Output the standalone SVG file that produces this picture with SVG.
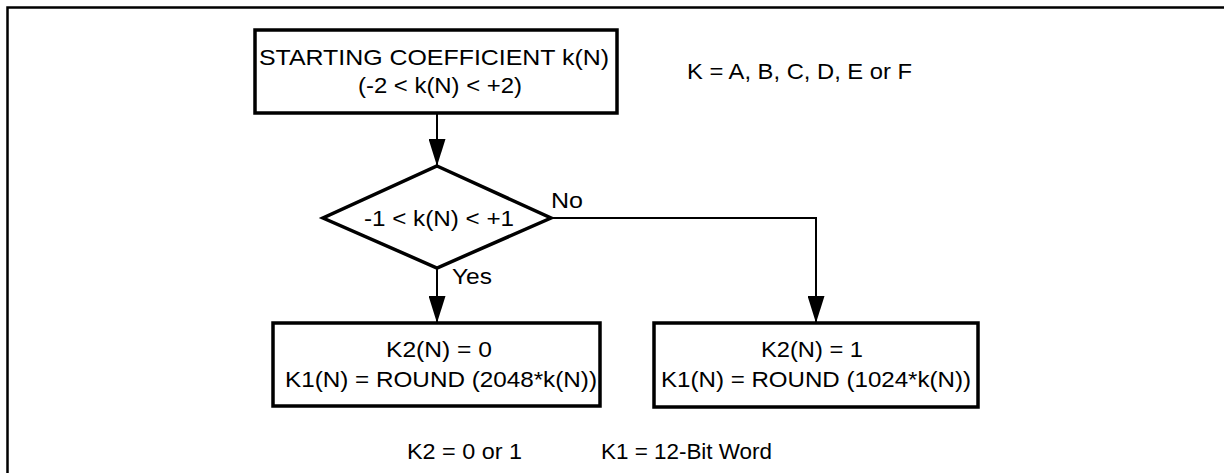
<svg xmlns="http://www.w3.org/2000/svg" width="1224" height="473" viewBox="0 0 1224 473">
<style>
text{font-family:"Liberation Sans",Arial,sans-serif;font-size:22px;fill:#000}
.c{text-anchor:middle}
.box{fill:#fff;stroke:#000;stroke-width:3.5}
.ln{fill:none;stroke:#000;stroke-width:2}
</style>
<defs>
<marker id="ah" markerUnits="userSpaceOnUse" markerWidth="27" markerHeight="17" refX="27" refY="8.5" orient="auto">
<path d="M0,0 L27,8.5 L0,17 z" fill="#000"/>
</marker>
</defs>
<rect width="1224" height="473" fill="#fff"/>
<path d="M7.5,473 V7.5 H1224" fill="none" stroke="#000" stroke-width="2.5"/>
<g id="connectors">
<line class="ln" x1="437" y1="113" x2="437" y2="166" marker-end="url(#ah)"/>
<line class="ln" x1="437" y1="268" x2="437" y2="323" marker-end="url(#ah)"/>
<polyline class="ln" points="551,218 816,218 816,323" marker-end="url(#ah)"/>
<text x="551" y="208" textLength="32" lengthAdjust="spacingAndGlyphs">No</text>
<text x="452" y="284" textLength="40" lengthAdjust="spacingAndGlyphs">Yes</text>
</g>
<g id="start">
<rect class="box" x="255" y="30" width="362" height="83"/>
<text class="c" x="434" y="65" textLength="350" lengthAdjust="spacingAndGlyphs">STARTING COEFFICIENT k(N)</text>
<text class="c" x="440" y="93" textLength="164" lengthAdjust="spacingAndGlyphs">(-2 &lt; k(N) &lt; +2)</text>
</g>
<g id="decision">
<polygon class="box" points="437,166 551,218 437,268 323,218"/>
<text class="c" x="439" y="226" textLength="150" lengthAdjust="spacingAndGlyphs">-1 &lt; k(N) &lt; +1</text>
</g>
<g id="yesbox">
<rect class="box" x="273" y="323" width="327" height="83"/>
<text class="c" x="439" y="357" textLength="106" lengthAdjust="spacingAndGlyphs">K2(N) = 0</text>
<text class="c" x="441" y="387" textLength="312" lengthAdjust="spacingAndGlyphs">K1(N) = ROUND (2048*k(N))</text>
</g>
<g id="nobox">
<rect class="box" x="654" y="323" width="324" height="84"/>
<text class="c" x="812" y="357" textLength="102" lengthAdjust="spacingAndGlyphs">K2(N) = 1</text>
<text class="c" x="816" y="387" textLength="310" lengthAdjust="spacingAndGlyphs">K1(N) = ROUND (1024*k(N))</text>
</g>
<g id="notes">
<text x="687" y="79" textLength="225" lengthAdjust="spacingAndGlyphs">K = A, B, C, D, E or F</text>
<text x="407" y="459" textLength="115" lengthAdjust="spacingAndGlyphs">K2 = 0 or 1</text>
<text x="601" y="459" textLength="171" lengthAdjust="spacingAndGlyphs">K1 = 12-Bit Word</text>
</g>
</svg>
